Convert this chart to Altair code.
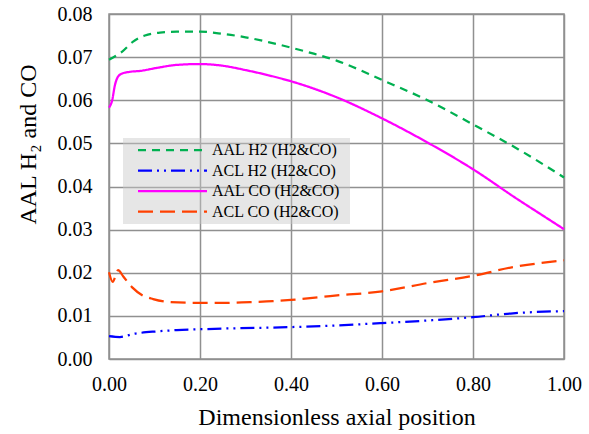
import altair as alt
import pandas as pd

series_names = ["AAL H2 (H2&CO)", "ACL H2 (H2&CO)", "AAL CO (H2&CO)", "ACL CO (H2&CO)"]
series_colors = ["#00B050", "#0000FF", "#FF00FF", "#FF4000"]
series_dashes = [[8, 6], [14, 5, 2, 5, 2, 5], [1, 0], [15, 7]]

aal_h2_x = [0.0, 0.029, 0.053, 0.079, 0.112, 0.149, 0.2, 0.25, 0.3, 0.35, 0.4, 0.45, 0.5, 0.6, 0.7, 0.8, 0.9, 1.0]
aal_h2_y = [0.0694, 0.0713, 0.0736, 0.0750, 0.0757, 0.0759, 0.0759, 0.0754, 0.0746, 0.0735, 0.0722, 0.0708, 0.0692, 0.0647, 0.0600, 0.0544, 0.0486, 0.0421]

acl_h2_x = [0.0, 0.024, 0.053, 0.105, 0.149, 0.2, 0.266, 0.36, 0.4, 0.596, 0.8, 0.888, 1.0]
acl_h2_y = [0.0053, 0.0051, 0.0058, 0.0064, 0.0067, 0.0069, 0.0071, 0.0073, 0.0074, 0.0083, 0.0097, 0.0106, 0.0111]

aal_co_x = [0.0, 0.007, 0.013, 0.02, 0.029, 0.046, 0.068, 0.105, 0.149, 0.2, 0.25, 0.3, 0.35, 0.4, 0.5, 0.6, 0.7, 0.8, 0.9, 0.95, 1.0]
aal_co_y = [0.0583, 0.0600, 0.0635, 0.0655, 0.0662, 0.0666, 0.0668, 0.0675, 0.0682, 0.0684, 0.0680, 0.0670, 0.0658, 0.0644, 0.0607, 0.0558, 0.0502, 0.0440, 0.0369, 0.0335, 0.0301]

acl_co_x = [0.0, 0.008, 0.02, 0.031, 0.051, 0.073, 0.097, 0.134, 0.2, 0.251, 0.31, 0.36, 0.4, 0.486, 0.6, 0.705, 0.8, 0.888, 1.0]
acl_co_y = [0.0201, 0.0179, 0.0206, 0.0192, 0.0166, 0.0148, 0.0139, 0.0132, 0.0130, 0.0130, 0.0132, 0.0134, 0.0137, 0.0146, 0.0157, 0.0177, 0.0193, 0.0213, 0.0229]

x_ticks = [0.0, 0.2, 0.4, 0.6, 0.8, 1.0]
y_ticks = [0.0, 0.01, 0.02, 0.03, 0.04, 0.05, 0.06, 0.07, 0.08]

rows = []
for name, xs, ys in [
    (series_names[0], aal_h2_x, aal_h2_y),
    (series_names[1], acl_h2_x, acl_h2_y),
    (series_names[2], aal_co_x, aal_co_y),
    (series_names[3], acl_co_x, acl_co_y),
]:
    for i, (xv, yv) in enumerate(zip(xs, ys)):
        rows.append({"series": name, "x": xv, "y": yv, "i": i})
df = pd.DataFrame(rows)

FONT = "Liberation Serif, Times New Roman, serif"
GRID = "#909090"

legend_path = "M-1,0M34.3,0M0.5,0H12"

chart = alt.Chart(df).mark_line(strokeWidth=2.25, interpolate="monotone").encode(
    x=alt.X("x:Q", scale=alt.Scale(domain=[0, 1], nice=False),
            axis=alt.Axis(values=x_ticks, format=".2f", title="Dimensionless axial position",
                          labelFlush=False, labelPadding=15, titleY=65, titleBaseline="alphabetic")),
    y=alt.Y("y:Q", scale=alt.Scale(domain=[0, 0.08], nice=False),
            axis=alt.Axis(values=y_ticks, format=".2f", title="AAL H\u2082 and CO",
                          labelFlush=False, labelPadding=17, titleX=-74, titleY=130, titleAngle=-90,
                          titleBaseline="alphabetic", titleAlign="center")),
    color=alt.Color("series:N", scale=alt.Scale(domain=series_names, range=series_colors),
                    legend=alt.Legend(title=None)),
    strokeDash=alt.StrokeDash("series:N", scale=alt.Scale(domain=series_names, range=series_dashes),
                              legend=alt.Legend(title=None)),
    order="i:Q",
).properties(
    width=455, height=345,
    autosize=alt.AutoSizeParams(type="none"),
    padding={"left": 109, "top": 14, "right": 25, "bottom": 75},
).configure_view(
    stroke=GRID, strokeWidth=1.5
).configure_axis(
    grid=True, gridColor=GRID, gridWidth=1.5, gridOpacity=1,
    domain=False, ticks=False,
    labelFont=FONT, labelFontSize=20, labelColor="black",
    titleFont=FONT, titleFontSize=24, titleFontWeight="normal", titleColor="black",
).configure_legend(
    orient="none", legendX=14, legendY=124,
    symbolType=legend_path, symbolSize=144, symbolStrokeWidth=2.25,
    labelFont=FONT, labelFontSize=16, labelColor="black", labelOffset=69,
    labelLimit=400, rowPadding=4.5, padding=4,
    fillColor="rgba(200,200,200,0.45)",
)

chart.save("out.html", embed_options={"renderer": "svg", "actions": False})
